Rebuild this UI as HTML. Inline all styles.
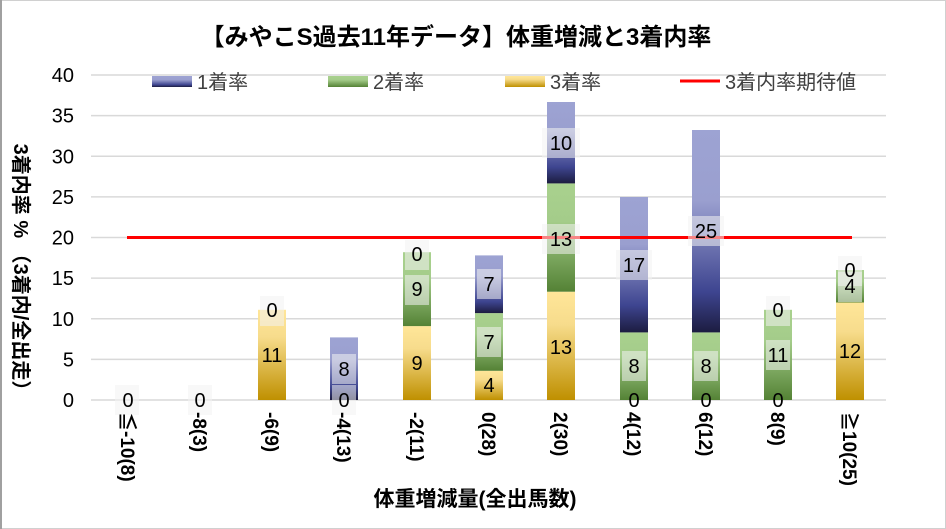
<!DOCTYPE html>
<html><head><meta charset="utf-8"><style>
body{margin:0;background:#fff}
svg{display:block;font-family:"Liberation Sans","Noto Sans CJK JP",sans-serif}
</style></head><body>
<svg width="946" height="529" viewBox="0 0 946 529">
<defs>
<linearGradient id="gy" x1="0" y1="0" x2="0" y2="1"><stop offset="0" stop-color="#ffe699"/><stop offset="0.3" stop-color="#f7dc8c"/><stop offset="1" stop-color="#bf9000"/></linearGradient>
<linearGradient id="gg" x1="0" y1="0" x2="0" y2="1"><stop offset="0" stop-color="#a9d18e"/><stop offset="0.35" stop-color="#a4cc8a"/><stop offset="1" stop-color="#548235"/></linearGradient>
<linearGradient id="gb" x1="0" y1="0" x2="0" y2="1"><stop offset="0" stop-color="#9da3d3"/><stop offset="0.35" stop-color="#9a9fcf"/><stop offset="0.8" stop-color="#3e4590"/><stop offset="1" stop-color="#1c1c40"/></linearGradient>
</defs>
<rect x="0.5" y="0.5" width="945" height="528" fill="#fff" stroke="#d0d0d0"/>
<line x1="1" y1="0" x2="1" y2="529" stroke="#a0a0a0" stroke-width="2"/>
<text x="456" y="45" text-anchor="middle" font-size="24" font-weight="bold" fill="#000">【みやこS過去11年データ】体重増減と3着内率</text>
<g stroke="#d9d9d9" stroke-width="1.5">
<line x1="91" x2="886" y1="75" y2="75"/><line x1="91" x2="886" y1="115.6" y2="115.6"/><line x1="91" x2="886" y1="156.3" y2="156.3"/><line x1="91" x2="886" y1="196.9" y2="196.9"/><line x1="91" x2="886" y1="237.5" y2="237.5"/><line x1="91" x2="886" y1="278.1" y2="278.1"/><line x1="91" x2="886" y1="318.8" y2="318.8"/><line x1="91" x2="886" y1="359.4" y2="359.4"/><line x1="91" x2="886" y1="400" y2="400"/>
</g>
<g font-size="20" fill="#000" text-anchor="end">
<text x="74" y="82">40</text><text x="74" y="122.6">35</text><text x="74" y="163.3">30</text><text x="74" y="203.9">25</text><text x="74" y="244.5">20</text><text x="74" y="285.1">15</text><text x="74" y="325.8">10</text><text x="74" y="366.4">5</text><text x="74" y="407">0</text>
</g>
<text transform="translate(14,272) rotate(90)" text-anchor="middle" font-size="20" font-weight="bold" fill="#000">3着内率 % （3着内/全出走）</text>
<!-- legend -->
<rect x="152" y="76" width="40" height="11" fill="url(#gb)"/><text x="197" y="89" font-size="20" fill="#404040">1着率</text>
<rect x="328" y="76" width="40" height="11" fill="url(#gg)"/><text x="373" y="89" font-size="20" fill="#404040">2着率</text>
<rect x="505" y="76" width="40" height="11" fill="url(#gy)"/><text x="550" y="89" font-size="20" fill="#404040">3着率</text>
<line x1="680" y1="81" x2="720" y2="81" stroke="#ff0000" stroke-width="3"/><text x="725" y="89" font-size="20" fill="#404040">3着内率期待値</text>
<!-- bars -->
<g>
<rect x="258" y="309.8" width="28" height="90.2" fill="url(#gy)"/>
<rect x="330" y="337.4" width="28" height="62.6" fill="url(#gb)"/>
<rect x="403" y="326.1" width="28" height="73.9" fill="url(#gy)"/>
<rect x="403" y="252.2" width="28" height="73.9" fill="url(#gg)"/>
<rect x="475" y="370.8" width="28" height="29.2" fill="url(#gy)"/>
<rect x="475" y="313.1" width="28" height="57.7" fill="url(#gg)"/>
<rect x="475" y="255.4" width="28" height="57.7" fill="url(#gb)"/>
<rect x="547" y="291.7" width="28" height="108.3" fill="url(#gy)"/>
<rect x="547" y="183.4" width="28" height="108.3" fill="url(#gg)"/>
<rect x="547" y="102" width="28" height="81.4" fill="url(#gb)"/>
<rect x="620" y="332.4" width="28" height="67.6" fill="url(#gg)"/>
<rect x="620" y="197" width="28" height="135.4" fill="url(#gb)"/>
<rect x="692" y="332.4" width="28" height="67.6" fill="url(#gg)"/>
<rect x="692" y="130" width="28" height="202.4" fill="url(#gb)"/>
<rect x="764" y="309.8" width="28" height="90.2" fill="url(#gg)"/>
<rect x="836" y="302.5" width="28" height="97.5" fill="url(#gy)"/>
<rect x="836" y="270" width="28" height="32.5" fill="url(#gg)"/>
</g>
<line x1="127" y1="237.5" x2="852" y2="237.5" stroke="#ff0000" stroke-width="3"/>
<!-- data labels -->
<g font-size="20" fill="#000" text-anchor="middle">
<g fill="#f2f2f2" fill-opacity="0.55">
<rect x="115" y="385" width="24" height="30"/><rect x="188" y="385" width="24" height="30"/>
<rect x="260" y="296" width="24" height="30"/>
<rect x="332" y="354" width="24" height="30"/><rect x="332" y="385" width="24" height="30"/>
<rect x="405" y="240" width="24" height="30"/><rect x="405" y="275" width="24" height="30"/>
<rect x="477" y="269" width="24" height="30"/><rect x="477" y="327" width="24" height="30"/>
<rect x="542" y="128" width="38" height="30"/><rect x="542" y="224" width="38" height="30"/>
<rect x="616" y="250" width="36" height="30"/><rect x="622" y="351" width="24" height="30"/>
<rect x="688" y="216" width="36" height="30"/><rect x="694" y="351" width="24" height="30"/>
<rect x="766" y="296" width="24" height="30"/><rect x="766" y="340" width="24" height="30"/>
<rect x="838" y="256" width="24" height="30"/><rect x="838" y="272" width="24" height="30"/>
</g>
<text x="128" y="407">0</text><text x="200" y="407">0</text>
<text x="272" y="317">0</text><text x="272" y="362">11</text>
<text x="344" y="376">8</text><text x="344" y="407">0</text>
<text x="417" y="261">0</text><text x="417" y="296">9</text><text x="417" y="370">9</text>
<text x="489" y="291">7</text><text x="489" y="349">7</text><text x="489" y="392">4</text>
<text x="561" y="150">10</text><text x="561" y="246">13</text><text x="561" y="354">13</text>
<text x="634" y="272">17</text><text x="634" y="373">8</text><text x="634" y="407">0</text>
<text x="706" y="238">25</text><text x="706" y="373">8</text><text x="706" y="407">0</text>
<text x="778" y="317">0</text><text x="778" y="362">11</text><text x="778" y="407">0</text>
<text x="850" y="277">0</text><text x="850" y="293">4</text><text x="850" y="358">12</text>
</g>
<!-- category labels -->
<g font-size="19" font-weight="bold" fill="#000">
<text transform="translate(121,412) rotate(90)">≦-10(8)</text>
<text transform="translate(193,412) rotate(90)">-8(3)</text>
<text transform="translate(265,412) rotate(90)">-6(9)</text>
<text transform="translate(337,412) rotate(90)">-4(13)</text>
<text transform="translate(410,412) rotate(90)">-2(11)</text>
<text transform="translate(482,412) rotate(90)">0(28)</text>
<text transform="translate(554,412) rotate(90)">2(30)</text>
<text transform="translate(627,412) rotate(90)">4(12)</text>
<text transform="translate(699,412) rotate(90)">6(12)</text>
<text transform="translate(771,412) rotate(90)">8(9)</text>
<text transform="translate(843,412) rotate(90)">≧10(25)</text>
</g>
<text x="475" y="506" text-anchor="middle" font-size="21" font-weight="bold" fill="#000">体重増減量(全出馬数)</text>
</svg>
</body></html>
